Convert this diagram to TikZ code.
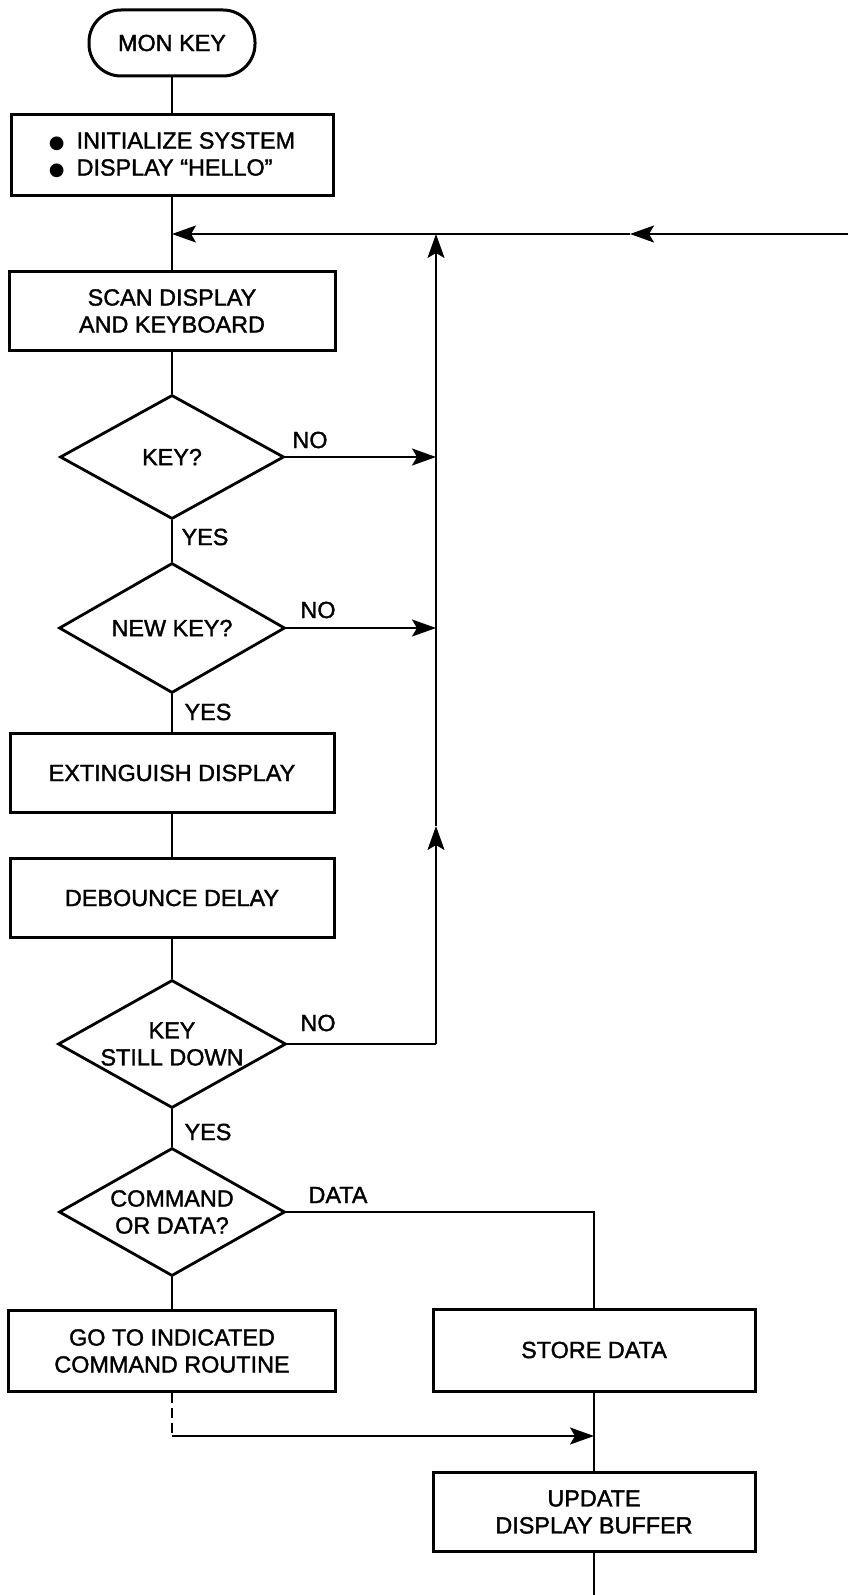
\documentclass[tikz,border=0pt]{standalone}
\usepackage{fontspec}
\setmainfont{Liberation Sans}[FakeBold=1.5]
\newfontfamily\symfont{DejaVu Sans}
\usetikzlibrary{arrows.meta,shapes.geometric}
\tikzset{
  txt/.style={font=\fontsize{11.7}{13.5}\selectfont, align=center},
  box/.style={txt, draw, line width=1.5pt, inner sep=0pt},
  term/.style={box, rounded corners=16pt},
  dec/.style={txt, draw, diamond, line width=1.4pt, inner sep=0pt, shape aspect=1.8},
  conn/.style={line width=1pt},
  arr/.style={conn, -{Stealth[length=12pt,width=8.5pt,inset=2.5pt]}},
  lbl/.style={txt, inner sep=0pt},
  dash line/.style={conn, dash pattern=on 5pt off 2.5pt}
}
\newcommand{\bigbul}{{\symfont\fontsize{9}{13.5}\selectfont ●}}
\begin{document}
\begin{tikzpicture}[x=0.5pt,y=-0.5pt]
\useasboundingbox (0,0) rectangle (848,1595);
% nodes
\node[term, minimum width=83pt, minimum height=33pt] (mon) at (172,43) {MON KEY};
\node[box, align=left, minimum width=161pt, minimum height=40.5pt] (init) at (172,155)
  {\bigbul\hspace{6pt}INITIALIZE SYSTEM\\ \bigbul\hspace{6pt}DISPLAY ``HELLO''};
\coordinate (j1) at (172,234);
\node[box, minimum width=163pt, minimum height=39.5pt] (scan) at (172,311) {SCAN DISPLAY\\AND KEYBOARD};
\node[dec, minimum width=112pt, minimum height=62pt] (key) at (172,457) {KEY?};
\node[dec, minimum width=113pt, minimum height=65pt] (nkey) at (172,628) {NEW KEY?};
\node[box, minimum width=162pt, minimum height=39.5pt] (ext) at (172,773) {EXTINGUISH DISPLAY};
\node[box, minimum width=162pt, minimum height=39.5pt] (deb) at (172,898) {DEBOUNCE DELAY};
\node[dec, minimum width=114pt, minimum height=64pt] (ksd) at (172,1044) {KEY\\STILL DOWN};
\node[dec, minimum width=113pt, minimum height=64pt] (cod) at (172,1212) {COMMAND\\OR DATA?};
\node[box, minimum width=163.5pt, minimum height=40.5pt] (goto) at (172,1351) {GO TO INDICATED\\COMMAND ROUTINE};
\node[box, minimum width=161pt, minimum height=41pt] (store) at (594,1350) {STORE DATA};
\node[box, minimum width=161pt, minimum height=39.5pt] (upd) at (594,1512) {UPDATE\\DISPLAY BUFFER};
% labels
\node[lbl] (lno1) at (310,440) {NO};
\node[lbl] (lyes1) at (205,537) {YES};
\node[lbl] (lno2) at (318,610) {NO};
\node[lbl] (lyes2) at (208,712) {YES};
\node[lbl] (lno3) at (318,1023) {NO};
\node[lbl] (lyes3) at (208,1132) {YES};
\node[lbl] (ldata) at (338,1195) {DATA};
% coordinates
\coordinate (redge) at (848,234);
\coordinate (m1) at (630,234);
\coordinate (vtop) at (436,234);
\coordinate (v1) at (436,457);
\coordinate (v2) at (436,628);
\coordinate (vmid) at (436,826);
\coordinate (v3) at (436,1044);
\coordinate (dj) at (172,1436);
\coordinate (sj) at (594,1436);
\coordinate (bot) at (594,1595);
% connectors
\draw[conn] (mon.south) -- (init.north);
\draw[conn] (init.south) -- (j1) -- (scan.north);
\draw[conn] (scan.south) -- (key.north);
\draw[conn] (key.south) -- (nkey.north);
\draw[conn] (nkey.south) -- (ext.north);
\draw[conn] (ext.south) -- (deb.north);
\draw[conn] (deb.south) -- (ksd.north);
\draw[conn] (ksd.south) -- (cod.north);
\draw[conn] (cod.south) -- (goto.north);
\draw[arr] (key.east) -- (v1);
\draw[arr] (nkey.east) -- (v2);
\draw[conn] (ksd.east) -- (v3);
\draw[arr] (v3) -- (vmid);
\draw[arr] (vmid) -- (vtop);
\draw[arr] (redge) -- (m1);
\draw[arr] (m1) -- (j1);
\draw[conn] (cod.east) -| (store.north);
\draw[dash line] (goto.south) -- (dj);
\draw[arr] (dj) -- (sj);
\draw[conn] (store.south) -- (upd.north);
\draw[conn] (upd.south) -- (bot);
\end{tikzpicture}
\end{document}
